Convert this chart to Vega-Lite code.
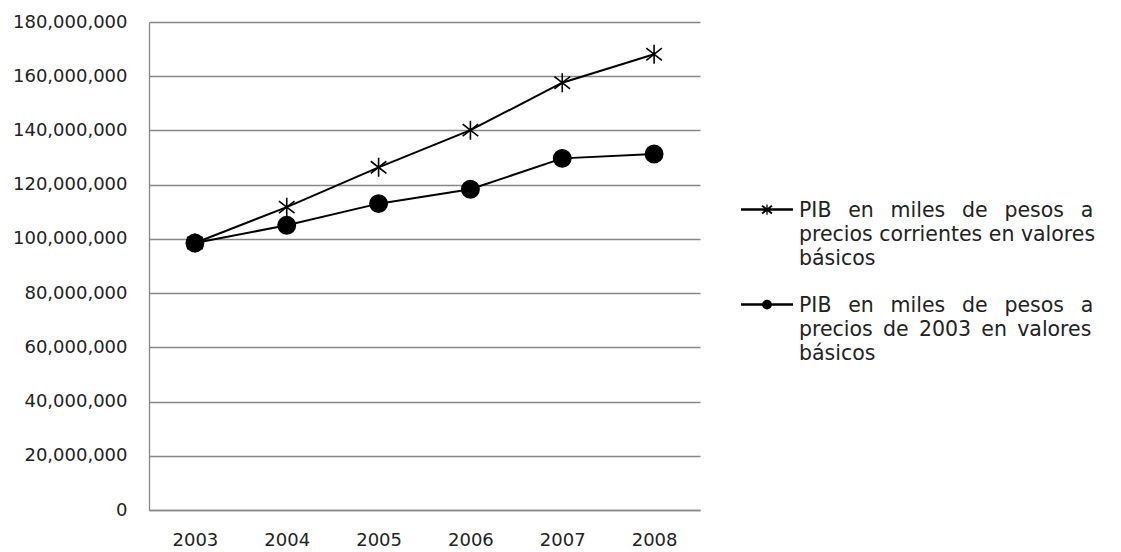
{
  "$schema": "https://vega.github.io/schema/vega-lite/v6.json",
  "width": 551,
  "height": 488,
  "autosize": {"type": "none"},
  "padding": {"left": 149, "top": 22, "right": 421, "bottom": 42},
  "background": "#ffffff",
  "config": {
    "view": {"stroke": null},
    "font": "DejaVu Sans",
    "axis": {"labelFont": "DejaVu Sans", "labelFontSize": 18, "labelColor": "#222222"},
    "legend": {"labelFont": "DejaVu Sans", "labelFontSize": 20.5, "labelColor": "#222222"},
    "style": {"guide-label": {"lineHeight": 24}}
  },
  "data": {
    "values": [
      {"anio": "2003", "serie": "corrientes", "pib": 98500000},
      {"anio": "2004", "serie": "corrientes", "pib": 111700000},
      {"anio": "2005", "serie": "corrientes", "pib": 126400000},
      {"anio": "2006", "serie": "corrientes", "pib": 140100000},
      {"anio": "2007", "serie": "corrientes", "pib": 157600000},
      {"anio": "2008", "serie": "corrientes", "pib": 168100000},
      {"anio": "2003", "serie": "constantes2003", "pib": 98500000},
      {"anio": "2004", "serie": "constantes2003", "pib": 105000000},
      {"anio": "2005", "serie": "constantes2003", "pib": 113000000},
      {"anio": "2006", "serie": "constantes2003", "pib": 118300000},
      {"anio": "2007", "serie": "constantes2003", "pib": 129700000},
      {"anio": "2008", "serie": "constantes2003", "pib": 131300000}
    ]
  },
  "encoding": {
    "x": {
      "field": "anio",
      "type": "ordinal",
      "scale": {"type": "point", "padding": 0.5},
      "axis": {
        "title": null,
        "labelAngle": 0,
        "ticks": false,
        "grid": false,
        "domainColor": "#878787",
        "domainWidth": 1.3,
        "labelPadding": 21
      }
    },
    "y": {
      "field": "pib",
      "type": "quantitative",
      "scale": {"domain": [0, 180000000], "nice": false, "zero": true},
      "axis": {
        "title": null,
        "values": [0, 20000000, 40000000, 60000000, 80000000, 100000000, 120000000, 140000000, 160000000, 180000000],
        "format": ",d",
        "ticks": false,
        "grid": true,
        "gridColor": "#878787",
        "gridWidth": 1.3,
        "domainColor": "#878787",
        "domainWidth": 1.3,
        "labelPadding": 22
      }
    }
  },
  "layer": [
    {
      "mark": {"type": "line", "color": "#000000", "strokeWidth": 2},
      "encoding": {"detail": {"field": "serie"}}
    },
    {
      "mark": {"type": "point", "filled": true, "fill": "#000000", "stroke": "#000000", "strokeWidth": 1.6, "opacity": 1, "size": 300},
      "encoding": {
        "shape": {
          "field": "serie",
          "type": "nominal",
          "scale": {
            "domain": ["corrientes", "constantes2003"],
            "range": ["M-0.9,-0.7L0.9,0.7M-0.9,0.7L0.9,-0.7M0,-1.1V1.1", "circle"]
          },
          "legend": null
        }
      }
    },
    {
      "mark": {"type": "point", "filled": true, "color": "#000000", "opacity": 1, "size": 0},
      "encoding": {
        "shape": {
          "field": "serie",
          "type": "nominal",
          "scale": {
            "domain": ["corrientes", "constantes2003"],
            "range": [
              "M-1,0.283H1V0.377H-1ZM-0.168,0.153L0.212,0.453L0.168,0.507L-0.212,0.207ZM-0.212,0.453L0.168,0.153L0.212,0.207L-0.168,0.507ZM-0.025,0.13H0.025V0.53H-0.025Z",
              "M-1,0.283H1V0.377H-1ZM-0.19,0.33A0.19,0.19 0 1,1 0.19,0.33A0.19,0.19 0 1,1 -0.19,0.33Z"
            ]
          },
          "legend": {
            "title": null,
            "orient": "none",
            "legendX": 592,
            "legendY": 153,
            "symbolSize": 2704,
            "symbolFillColor": "#000000",
            "symbolStrokeWidth": 0,
            "symbolOpacity": 1,
            "labelOffset": 6,
            "labelBaseline": "top",
            "labelLimit": 400,
            "rowPadding": -7,
            "labelExpr": "datum.value == 'corrientes' ? ['PIB \u2002en \u2002miles \u2002de \u2002pesos \u2002a', 'precios corrientes en valores', 'básicos'] : ['PIB \u2002en \u2002miles \u2002de \u2002pesos \u2002a', 'precios\u2002de\u20022003\u2002en\u2002valores', 'básicos']"
          }
        }
      }
    }
  ],
  "resolve": {"scale": {"shape": "independent"}, "legend": {"shape": "independent"}}
}
